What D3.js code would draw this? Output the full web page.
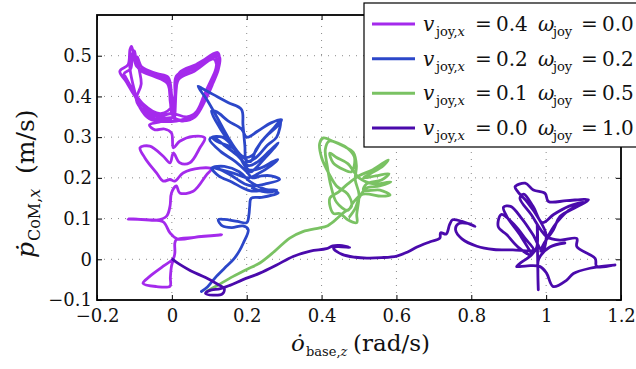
<!DOCTYPE html>
<html lang="en">
<head>
<meta charset="UTF-8" />
<title>CoM velocity vs base yaw rate</title>
<script src="https://d3js.org/d3.v7.min.js"></script>
<style>
  body { margin: 0; background: #fff; }
  svg { display: block; }
</style>
</head>
<body>
<div id="chart"></div>
<script>
// axis ticks
const xTicks = [-0.2, 0, 0.2, 0.4, 0.6, 0.8, 1, 1.2];
const yTicks = [-0.1, 0, 0.1, 0.2, 0.3, 0.4, 0.5];

// legend values
const vjoy = ["0.4", "0.2", "0.1", "0.0"];
const wjoy = ["0.0", "0.2", "0.5", "1.0"];
const colors = ["#a42aec", "#2c47c9", "#7ac263", "#4a0aac"];

// [o_base_z, p_com_x]
const run1 = [
  [0.004,-0.001],[-0.001,-0.017],[-0.004,-0.045],[-0.005,-0.066],[-0.041,-0.067],[-0.077,-0.059],[-0.059,-0.042],[-0.023,-0.017],
  [0.004,0.002],[0.008,0.016],[0.008,0.040],[0.012,0.048],[0.060,0.054],[0.133,0.060],[0.070,0.055],[0.014,0.050],
  [-0.005,0.065],[-0.023,0.092],[-0.060,0.097],[-0.117,0.099],[-0.070,0.097],[-0.041,0.096],[-0.014,0.106],[-0.005,0.130],
  [-0.001,0.163],[0.012,0.180],[0.021,0.163],[0.057,0.167],[0.093,0.208],[0.106,0.222],[0.075,0.224],[0.030,0.212],
  [0.008,0.192],[-0.005,0.196],[-0.023,0.192],[-0.041,0.212],[-0.072,0.249],[-0.085,0.274],[-0.059,0.278],[-0.023,0.253],
  [-0.005,0.237],[0.004,0.261],[0.021,0.237],[0.048,0.237],[0.075,0.274],[0.088,0.298],[0.057,0.302],[0.021,0.290],
  [0.004,0.274],[-0.001,0.310],[-0.020,0.320],[-0.045,0.318],[-0.060,0.330],[-0.030,0.338],[-0.001,0.345],
  [-0.035,0.350],[-0.072,0.372],[-0.098,0.400],[-0.121,0.435],[-0.139,0.462],[-0.117,0.478],[-0.112,0.515],[-0.108,0.523],
  [-0.103,0.507],[-0.094,0.474],[-0.059,0.458],[-0.014,0.441],[-0.005,0.400],[-0.001,0.360],[0.008,0.400],[0.012,0.450],
  [0.057,0.474],[0.119,0.503],[0.128,0.495],[0.124,0.466],[0.110,0.433],[0.090,0.392],[0.062,0.350],[0.030,0.340],[0.000,0.348],
  [-0.040,0.345],[-0.075,0.360],[-0.090,0.385],[-0.112,0.425],[-0.128,0.455],[-0.110,0.468],[-0.106,0.500],[-0.100,0.512],
  [-0.090,0.470],[-0.055,0.452],[-0.012,0.432],[-0.004,0.385],[0.003,0.350],[0.010,0.395],[0.015,0.445],[0.060,0.470],
  [0.118,0.497],[0.118,0.470],[0.105,0.440],[0.085,0.400],[0.065,0.362],[0.035,0.345],[-0.020,0.338],
  [-0.060,0.345],[-0.085,0.372],[-0.100,0.415],[-0.112,0.470],[-0.110,0.505],[-0.098,0.492],[-0.085,0.465],[-0.050,0.450],
  [-0.012,0.438],[-0.002,0.370],[0.006,0.345],[0.012,0.420],[0.020,0.458],[0.070,0.480],[0.122,0.508],[0.126,0.482],
  [0.110,0.450],[0.092,0.415],[0.070,0.365],[0.040,0.350],[0.002,0.358],[-0.040,0.352],[-0.075,0.365],
  [-0.095,0.392],[-0.082,0.430],[-0.088,0.470],[-0.092,0.497],[-0.080,0.472],[-0.040,0.456],[-0.010,0.447],[0.000,0.400],
  [0.010,0.345],[0.045,0.342],[0.080,0.375],[0.105,0.440],[0.120,0.462],[0.112,0.492],[0.060,0.462],[0.018,0.442],
  [0.005,0.380],[-0.030,0.358],[-0.075,0.380],[-0.125,0.450]
];

const run2 = [
  [0.079,-0.079],[0.095,-0.068],[0.119,-0.042],[0.145,-0.018],[0.164,-0.001],[0.180,0.020],[0.191,0.040],[0.204,0.073],
  [0.190,0.082],[0.160,0.078],[0.135,0.082],[0.124,0.097],[0.140,0.098],[0.175,0.093],[0.200,0.090],[0.206,0.110],
  [0.208,0.130],[0.212,0.150],[0.240,0.152],[0.270,0.158],[0.284,0.163],[0.262,0.170],[0.232,0.168],[0.210,0.168],
  [0.190,0.175],[0.160,0.190],[0.125,0.205],[0.106,0.224],[0.125,0.222],[0.160,0.205],[0.195,0.185],[0.215,0.180],
  [0.250,0.185],[0.288,0.196],[0.265,0.205],[0.240,0.205],[0.215,0.200],
  [0.200,0.215],[0.170,0.240],[0.130,0.265],[0.101,0.294],[0.110,0.300],[0.140,0.280],[0.175,0.255],[0.205,0.230],
  [0.230,0.240],[0.260,0.265],[0.284,0.286],[0.275,0.275],[0.250,0.250],[0.225,0.225],[0.210,0.215],
  [0.190,0.240],[0.160,0.280],[0.130,0.320],[0.106,0.364],[0.120,0.362],[0.150,0.340],[0.186,0.320],[0.200,0.300],
  [0.230,0.315],[0.265,0.335],[0.293,0.343],[0.285,0.330],[0.250,0.300],[0.225,0.270],[0.210,0.240],
  [0.180,0.260],[0.150,0.300],[0.120,0.350],[0.095,0.390],[0.070,0.425],[0.080,0.420],[0.110,0.405],[0.150,0.385],
  [0.186,0.368],[0.190,0.330],[0.195,0.280],[0.200,0.240],[0.225,0.250],[0.255,0.280],[0.280,0.300],[0.290,0.340],
  [0.270,0.320],[0.240,0.290],
  [0.215,0.255],[0.195,0.250],[0.160,0.275],[0.120,0.290],[0.108,0.300],[0.135,0.300],[0.170,0.270],[0.205,0.220],
  [0.240,0.225],[0.270,0.240],[0.283,0.245],[0.265,0.230],[0.230,0.210],[0.205,0.200],[0.170,0.210],[0.130,0.220],
  [0.110,0.226],[0.140,0.228],[0.180,0.215],[0.210,0.190],[0.250,0.172],[0.280,0.170],[0.255,0.165],[0.215,0.175]
];

const run3 = [
  [0.093,-0.079],[0.120,-0.065],[0.164,-0.042],[0.200,-0.025],[0.235,-0.009],[0.275,0.020],[0.315,0.052],[0.350,0.068],
  [0.395,0.077],[0.413,0.081],[0.435,0.095],[0.458,0.114],[0.480,0.130],
  [0.470,0.160],[0.440,0.180],[0.420,0.210],[0.400,0.250],[0.395,0.285],[0.405,0.298],[0.430,0.290],[0.458,0.278],
  [0.485,0.262],[0.493,0.230],[0.490,0.195],[0.500,0.160],[0.494,0.110],[0.494,0.090],[0.470,0.097],[0.450,0.112],
  [0.431,0.113],[0.422,0.150],[0.445,0.165],[0.470,0.185],[0.500,0.205],[0.537,0.220],[0.578,0.244],[0.565,0.230],
  [0.530,0.210],[0.512,0.200],[0.545,0.205],[0.580,0.210],[0.560,0.195],[0.520,0.185],[0.512,0.170],[0.556,0.170],
  [0.583,0.158],[0.560,0.155],[0.510,0.160],[0.485,0.140],[0.470,0.120],[0.440,0.140],[0.425,0.180],[0.415,0.230],
  [0.410,0.270],[0.420,0.290],[0.445,0.285],[0.470,0.272],[0.488,0.250],[0.480,0.215],[0.460,0.220],[0.431,0.237],
  [0.422,0.261],[0.440,0.250],[0.470,0.235],[0.500,0.200],[0.540,0.185],[0.585,0.190],[0.555,0.180],[0.520,0.175],
  [0.500,0.150],[0.490,0.125],[0.475,0.105]
];

const run4 = [
  [0.002,0.000],[0.020,-0.012],[0.050,-0.028],[0.090,-0.045],[0.120,-0.060],[0.140,-0.072],[0.135,-0.085],[0.110,-0.088],
  [0.090,-0.084],[0.100,-0.077],[0.130,-0.072],[0.155,-0.064],[0.190,-0.050],[0.235,-0.034],[0.280,-0.014],[0.324,0.007],
  [0.370,0.020],[0.413,0.026],[0.430,0.033],[0.448,0.034],[0.475,0.029],[0.440,0.031],[0.432,0.027],[0.455,0.012],
  [0.490,0.005],[0.521,0.003],[0.560,0.004],[0.601,0.008],[0.630,0.018],[0.655,0.030],[0.690,0.043],[0.716,0.052],
  [0.718,0.065],[0.733,0.062],[0.742,0.085],[0.750,0.097],[0.775,0.093],[0.810,0.081],[0.790,0.088],[0.765,0.087],
  [0.758,0.072],[0.775,0.050],[0.815,0.032],[0.860,0.024],[0.911,0.023],
  [0.966,0.023],[0.945,0.050],[0.915,0.085],[0.880,0.110],[0.872,0.080],[0.895,0.060],[0.925,0.030],[0.960,0.010],
  [0.930,0.060],[0.895,0.105],[0.886,0.128],[0.905,0.130],[0.935,0.100],[0.965,0.060],[0.990,0.020],
  [1.000,0.060],[0.980,0.100],[0.950,0.140],[0.925,0.165],[0.917,0.178],[0.944,0.187],[0.966,0.170],[0.997,0.162],
  [1.006,0.142],[1.055,0.144],[1.113,0.146],[1.082,0.129],[1.037,0.105],[1.019,0.072],[0.995,0.040],[0.985,0.020],
  [1.020,0.080],[1.060,0.120],[1.100,0.140],[1.060,0.130],[1.020,0.110],[0.990,0.090],[0.965,0.130],[0.940,0.160],
  [0.930,0.150],[0.960,0.110],
  [1.001,0.056],[1.037,0.047],[1.082,0.051],[1.082,0.031],[1.131,0.002],[1.135,-0.018],[1.184,-0.014],[1.117,-0.022],
  [1.073,-0.035],[1.055,-0.051],[1.019,-0.067],[1.001,-0.034],[0.984,-0.018],[0.950,-0.016],[0.921,-0.018],[0.930,-0.010],
  [0.960,0.010],[0.975,0.030],[0.976,0.088],[0.977,0.020],[0.978,-0.040],[0.979,-0.075],[0.978,-0.030],[0.980,0.000],
  [1.010,0.030],[1.050,0.040]
];

const runs = [run1, run2, run3, run4];

const W = 636, H = 369;
const margin = {top: 15, right: 15, bottom: 69, left: 97};
const serif = "DejaVu Serif";

const svg = d3.select("#chart").append("svg")
    .attr("width", W)
    .attr("height", H);

const x = d3.scaleLinear().domain([-0.2, 1.2]).range([margin.left, W - margin.right]);
const y = d3.scaleLinear().domain([-0.1, 0.6]).range([H - margin.bottom, margin.top]);
const fmt = d3.format("~g");

// dotted grid
svg.append("g")
    .selectAll("line")
    .data(xTicks.slice(1, -1))
    .join("line")
    .attr("x1", d => x(d)).attr("x2", d => x(d))
    .attr("y1", y(-0.1)).attr("y2", y(0.6))
    .attr("stroke", "#8a8a8a").attr("stroke-width", 1)
    .attr("stroke-dasharray", "1,6");
svg.append("g")
    .selectAll("line")
    .data(yTicks.slice(1))
    .join("line")
    .attr("y1", d => y(d)).attr("y2", d => y(d))
    .attr("x1", x(-0.2)).attr("x2", x(1.2))
    .attr("stroke", "#8a8a8a").attr("stroke-width", 1)
    .attr("stroke-dasharray", "1,6");

// trajectories
svg.append("clipPath").attr("id", "plotclip")
  .append("rect")
    .attr("x", x(-0.2)).attr("y", y(0.6))
    .attr("width", x(1.2) - x(-0.2)).attr("height", y(-0.1) - y(0.6));

const line = d3.line()
    .x(d => x(d[0]))
    .y(d => y(d[1]))
    .curve(d3.curveCatmullRom.alpha(0.5));

svg.append("g")
    .attr("clip-path", "url(#plotclip)")
    .selectAll("path")
    .data(runs)
    .join("path")
    .attr("d", line)
    .attr("fill", "none")
    .attr("stroke", (d, i) => colors[i])
    .attr("stroke-width", 2.8)
    .attr("stroke-linejoin", "round")
    .attr("stroke-linecap", "round");

// axes, ticks pointing inwards on every side
svg.append("g")
    .attr("transform", `translate(0,${y(-0.1)})`)
    .call(d3.axisBottom(x).tickValues(xTicks).tickFormat(fmt).tickSizeInner(-5).tickSizeOuter(0).tickPadding(9));
svg.append("g")
    .attr("transform", `translate(${x(-0.2)},0)`)
    .call(d3.axisLeft(y).tickValues(yTicks).tickFormat(fmt).tickSizeInner(-5).tickSizeOuter(0).tickPadding(5));
svg.append("g")
    .attr("transform", `translate(0,${y(0.6)})`)
    .call(d3.axisTop(x).tickValues(xTicks).tickFormat("").tickSizeInner(-5).tickSizeOuter(0));
svg.append("g")
    .attr("transform", `translate(${x(1.2)},0)`)
    .call(d3.axisRight(y).tickValues(yTicks).tickFormat("").tickSizeInner(-5).tickSizeOuter(0));

svg.selectAll(".domain").remove();
svg.selectAll(".tick line").attr("stroke", "#000").attr("stroke-width", 1);
svg.selectAll(".tick text")
    .attr("fill", "#111")
    .attr("font-family", serif)
    .attr("font-size", 18);

svg.append("rect")
    .attr("x", x(-0.2)).attr("y", y(0.6))
    .attr("width", x(1.2) - x(-0.2)).attr("height", y(-0.1) - y(0.6))
    .attr("fill", "none").attr("stroke", "#000").attr("stroke-width", 1.8);

// axis titles
const xt = svg.append("text")
    .attr("x", 291).attr("y", 351)
    .attr("fill", "#111")
    .attr("font-family", serif)
    .attr("font-size", 23);
xt.append("tspan").attr("font-style", "italic").text("o\u0307");
xt.append("tspan").attr("x", 306).attr("dy", 5).attr("font-size", 13).text("base,");
xt.append("tspan").attr("font-size", 13).attr("font-style", "italic").text("z");
xt.append("tspan").attr("x", 353).attr("dy", -5).text("(rad/s)");

const yt = svg.append("text")
    .attr("transform", "translate(34,258) rotate(-90)")
    .attr("fill", "#111")
    .attr("font-family", serif)
    .attr("font-size", 25);
yt.append("tspan").attr("font-style", "italic").text("p\u0307");
yt.append("tspan").attr("x", 17).attr("dy", 6).attr("font-size", 16).text("CoM,");
yt.append("tspan").attr("font-size", 16).attr("font-style", "italic").text("x");
yt.append("tspan").attr("x", 84).attr("dy", -6).text("(m/s)");

// legend
const lg = svg.append("g");
lg.append("rect")
    .attr("x", 364).attr("y", 3)
    .attr("width", 300).attr("height", 144)
    .attr("fill", "#fff").attr("stroke", "#000").attr("stroke-width", 1.2);

const rowY = d3.scalePoint().domain(d3.range(vjoy.length)).range([24, 128]);

const rows = lg.selectAll("g.row")
    .data(vjoy)
    .join("g")
    .attr("class", "row")
    .attr("transform", (d, i) => `translate(0,${rowY(i)})`);

rows.append("line")
    .attr("x1", 372).attr("x2", 415)
    .attr("stroke", (d, i) => colors[i])
    .attr("stroke-width", 3);

const lt = rows.append("text")
    .attr("y", 7)
    .attr("fill", "#111")
    .attr("font-family", serif)
    .attr("font-size", 20);
lt.append("tspan").attr("x", 423).attr("font-style", "italic").text("v");
lt.append("tspan").attr("x", 436).attr("dy", 5).attr("font-size", 13).text("joy,");
lt.append("tspan").attr("font-size", 13).attr("font-style", "italic").text("x");
lt.append("tspan").attr("x", 475).attr("dy", -5).text("=");
lt.append("tspan").attr("x", 496).text(d => d);
lt.append("tspan").attr("x", 538).attr("font-style", "italic").text("\u03c9");
lt.append("tspan").attr("x", 553).attr("dy", 5).attr("font-size", 13).text("joy");
lt.append("tspan").attr("x", 581).attr("dy", -5).text("=");
lt.append("tspan").attr("x", 602).text((d, i) => wjoy[i]);
</script>
</body>
</html>
